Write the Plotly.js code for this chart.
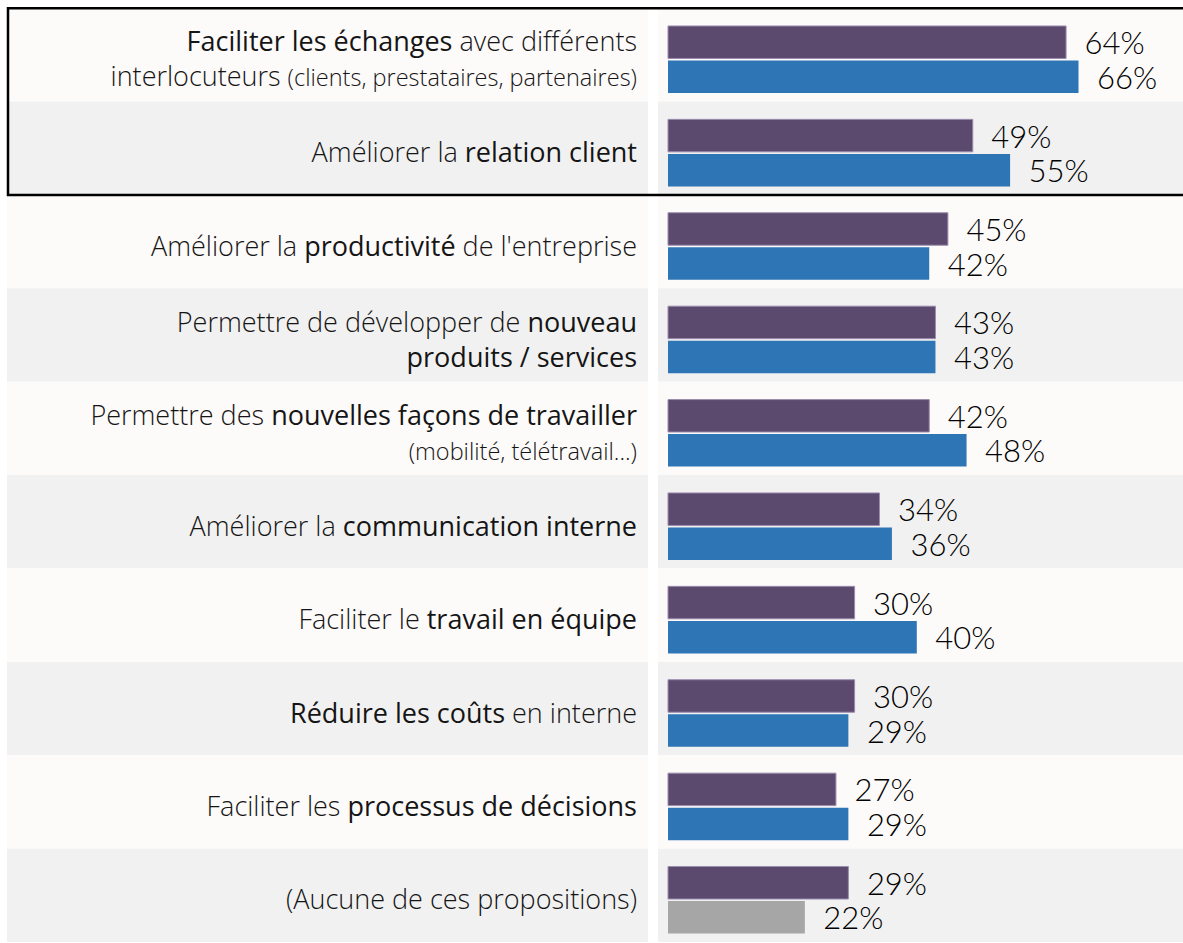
<!DOCTYPE html>
<html>
<head>
<meta charset="utf-8">
<script src="https://cdn.plot.ly/plotly-3.0.1.min.js"></script>
<style>html,body{margin:0;padding:0;background:#fff;}</style>
</head>
<body>
<div id="chart" style="width:1183px;height:943px;"></div>
<script>
// ---- data ----
const categories = [
  "Faciliter les échanges",
  "Améliorer la relation client",
  "Améliorer la productivité",
  "Nouveaux produits / services",
  "Nouvelles façons de travailler",
  "Communication interne",
  "Travail en équipe",
  "Réduire les coûts",
  "Processus de décisions",
  "Aucune de ces propositions"
];
const labelMain = [
  "<b>Faciliter les échanges</b> avec différents<br>interlocuteurs",
  "Améliorer la <b>relation client</b>",
  "Améliorer la <b>productivité</b> de l'entreprise",
  "Permettre de développer de <b>nouveau</b><br><b>produits / services</b>",
  "Permettre des <b>nouvelles façons de travailler</b><br>",
  "Améliorer la <b>communication interne</b>",
  "Faciliter le <b>travail en équipe</b>",
  "<b>Réduire les coûts</b> en interne",
  "Faciliter les <b>processus de décisions</b>",
  "(Aucune de ces propositions)"
];
const labelNote = [
  "(clients, prestataires, partenaires)", "", "", "",
  "(mobilité, télétravail...)", "", "", "", "", ""
];
const series1 = [64, 49, 45, 43, 42, 34, 30, 30, 27, 29];
const series2 = [66, 55, 42, 43, 48, 36, 40, 29, 29, 22];

// ---- styling ----
const PURPLE = "#5b4a6e", BLUE = "#2e75b6", GREY = "#a6a6a6";
const PINK_BG = "#fdfafa", GREY_BG = "#f1f1f1";
const W = 1183, H = 943, ML = 658;
const PW = W - ML;

const emph = s => s.replace(/<b>/g, "<span style=\"font-weight:500\">").replace(/<\/b>/g, "</span>");
const ticktext = labelMain.map((m, i) =>
  emph(m) + (labelNote[i] ? " <span style=\"font-size:23.5px\">" + labelNote[i] + "</span>" : ""));

const blueColors = series2.map((v, i) => i === series2.length - 1 ? GREY : BLUE);

const valueFont = {family: "Lato, 'DejaVu Sans', sans-serif", size: 31, color: "#000", weight: 300};

const traces = [
  {type: "bar", orientation: "h", name: "Série 1", y: categories, x: series1,
   marker: {color: PURPLE, line: {color: "#9b8cae", width: 1}},
   texttemplate: "\u2002%{x}%", textposition: "outside", textfont: valueFont,
   cliponaxis: false, constraintext: "none", hoverinfo: "skip"},
  {type: "bar", orientation: "h", name: "Série 2", y: categories, x: series2,
   marker: {color: blueColors, line: {width: 0}},
   texttemplate: "\u2002%{x}%", textposition: "outside", textfont: valueFont,
   cliponaxis: false, constraintext: "none", hoverinfo: "skip"}
];

const shapes = [];
const leftX0 = (7 - ML) / PW, leftX1 = (648 - ML) / PW;
categories.forEach((c, i) => {
  const fill = i % 2 === 0 ? PINK_BG : GREY_BG;
  shapes.push({type: "rect", xref: "paper", yref: "y", x0: 0, x1: 1.01,
    y0: i - 0.55, y1: i + 0.45, fillcolor: fill, line: {width: 0}, layer: "below"});
  shapes.push({type: "rect", xref: "paper", yref: "y", x0: leftX0, x1: leftX1,
    y0: i - 0.55, y1: i + 0.45, fillcolor: fill, line: {width: 0}, layer: "below"});
});
shapes.push({type: "rect", xref: "paper", yref: "y", x0: (8 - ML) / PW, x1: 1.02,
  y0: -0.55, y1: 1.45, fillcolor: "rgba(0,0,0,0)", line: {color: "#000", width: 2.5}, layer: "above"});

const layout = {
  width: W, height: H,
  margin: {l: ML, r: 0, t: 0, b: 0, pad: 0},
  paper_bgcolor: "#fff", plot_bgcolor: "rgba(0,0,0,0)",
  showlegend: false,
  barmode: "group", bargap: 0.26, bargroupgap: 0.06,
  xaxis: {range: [-1.61, 82.8], visible: false, fixedrange: true},
  yaxis: {
    type: "category", categoryorder: "array", categoryarray: categories,
    range: [9.46, -0.637], tickmode: "array", tickvals: categories, ticktext: ticktext,
    showgrid: false, zeroline: false, showline: false, ticks: "",
    ticklabelstandoff: 20, automargin: false,
    tickfont: {family: "'Open Sans', sans-serif", size: 27, color: "#151515", weight: 300}
  },
  shapes: shapes,
  font: {family: "'Open Sans', sans-serif"}
};

Plotly.newPlot("chart", traces, layout, {displayModeBar: false, staticPlot: true});
</script>
</body>
</html>
